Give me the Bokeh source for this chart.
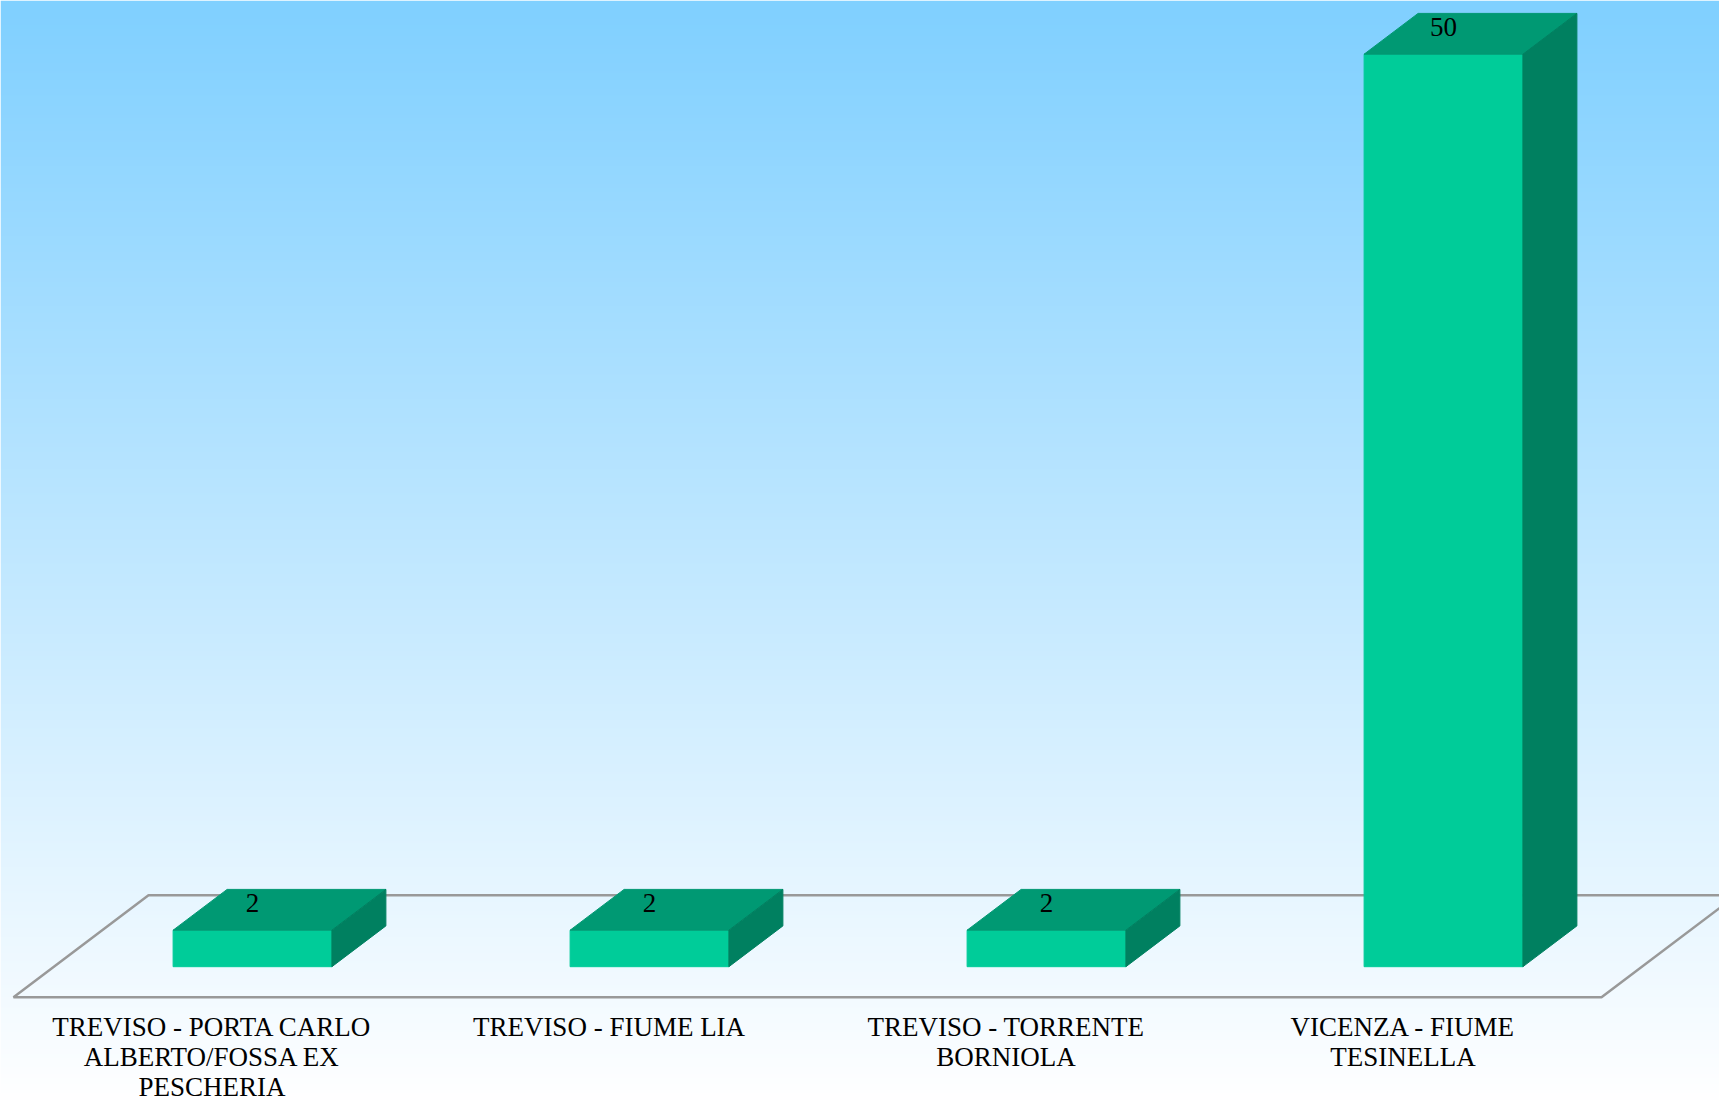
import numpy as np
from bokeh.plotting import figure
from bokeh.models import ColumnDataSource
from bokeh.core.properties import value
from bokeh.embed import file_html
from bokeh.resources import INLINE

# ---- data ----
categories = [
    "TREVISO - PORTA CARLO\nALBERTO/FOSSA EX\nPESCHERIA",
    "TREVISO - FIUME LIA",
    "TREVISO - TORRENTE\nBORNIOLA",
    "VICENZA - FIUME\nTESINELLA",
]
values = [2, 2, 2, 50]

# ---- style / geometry ----
W, H = 1719, 1101
PX_CAT = 397.0          # pixels per category band
PX_VAL = 18.25          # pixels per value unit
DX = 135.0 / PX_CAT     # floor depth, x shift (category units)
DY = 102.0 / PX_VAL     # floor depth, y shift (value units)
FLOOR_LEFT_PX = 13
FLOOR_FRONT_PX = 996.8
D0, D1 = 0.3, 0.7       # bar depth span
B0, B1 = 0.3, 0.7       # bar span within band
FRONT = "#00CC99"
TOP = "#009973"
SIDE = "#008060"
FONT = "Liberation Serif"

x_start = -FLOOR_LEFT_PX / PX_CAT
x_end = (W - FLOOR_LEFT_PX) / PX_CAT
y_end = FLOOR_FRONT_PX / PX_VAL
y_start = (FLOOR_FRONT_PX - H) / PX_VAL

p = figure(width=W, height=H, x_range=(x_start, x_end), y_range=(y_start, y_end),
           output_backend="svg", toolbar_location=None, min_border=0,
           outline_line_color=None)
p.axis.visible = False
p.grid.visible = False

# background gradient
n = 600
t = np.linspace(0, 1, n)[:, None]  # 0 bottom -> 1 top
top_c = np.array([128, 208, 255])
bot_c = np.array([255, 255, 255])
cols = (bot_c + (top_c - bot_c) * t).astype(np.uint32)
img = np.zeros((n, 1), dtype=np.uint32)
view = img.view(dtype=np.uint8).reshape((n, 1, 4))
view[:, 0, 0] = cols[:, 0]
view[:, 0, 1] = cols[:, 1]
view[:, 0, 2] = cols[:, 2]
view[:, 0, 3] = 255
p.image_rgba(image=[img], x=x_start, y=y_start, dw=x_end - x_start, dh=y_end - y_start)

# floor
nc = len(categories)
p.patch(x=[0, nc, nc + DX, DX], y=[0, 0, DY, DY], fill_color=None,
        line_color="#999999", line_width=2.5)

# bars
fx, fy, tx, ty, sx, sy = [], [], [], [], [], []
for i, v in enumerate(values):
    x0, x1 = i + B0, i + B1
    fx.append([x0 + D0 * DX, x1 + D0 * DX, x1 + D0 * DX, x0 + D0 * DX])
    fy.append([D0 * DY, D0 * DY, v + D0 * DY, v + D0 * DY])
    tx.append([x0 + D0 * DX, x1 + D0 * DX, x1 + D1 * DX, x0 + D1 * DX])
    ty.append([v + D0 * DY, v + D0 * DY, v + D1 * DY, v + D1 * DY])
    sx.append([x1 + D0 * DX, x1 + D1 * DX, x1 + D1 * DX, x1 + D0 * DX])
    sy.append([D0 * DY, D1 * DY, v + D1 * DY, v + D0 * DY])

p.patches(xs=fx, ys=fy, fill_color=FRONT, line_color=FRONT, line_width=1)
p.patches(xs=tx, ys=ty, fill_color=TOP, line_color=TOP, line_width=1)
p.patches(xs=sx, ys=sy, fill_color=SIDE, line_color=SIDE, line_width=1)

# value labels
lab_src = ColumnDataSource(dict(
    x=[i + 0.5 + D0 * DX for i in range(nc)],
    y=[v + D0 * DY + 1.5 for v in values],
    t=[str(v) for v in values],
))
p.text(x="x", y="y", text="t", source=lab_src, text_align="center",
       text_baseline="alphabetic", text_font=value(FONT), text_font_size="27px",
       text_color="black")

# category labels
cat_src = ColumnDataSource(dict(
    x=[i + 0.5 for i in range(nc)],
    y=[(FLOOR_FRONT_PX - 1011) / PX_VAL] * nc,
    t=categories,
))
p.text(x="x", y="y", text="t", source=cat_src, text_align="center",
       text_baseline="top", text_font=value(FONT), text_font_size="27px",
       text_color="black", text_line_height=1.0)

open("out.html", "w").write(file_html(p, INLINE))
